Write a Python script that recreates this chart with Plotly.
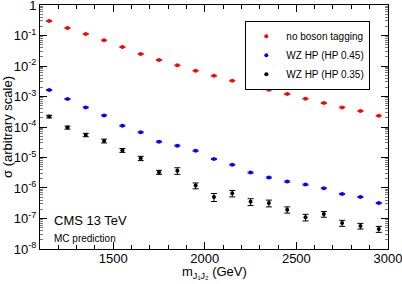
import plotly.graph_objects as go

mass = [1150, 1250, 1350, 1450, 1550, 1650, 1750, 1850, 1950, 2050,
        2150, 2250, 2350, 2450, 2550, 2650, 2750, 2850, 2950]

no_tag = [0.30, 0.176, 0.112, 0.0695, 0.042, 0.0247, 0.0157, 0.0105, 0.0070, 0.0048,
          0.0033, 0.0023, 0.00168, 0.00121, 0.00085, 0.00061, 0.00044, 0.000335, 0.000234]
no_tag_err = [0.008, 0.005, 0.003, 0.002, 0.0012, 0.0007, 0.0005, 0.0003, 0.0002, 0.00014,
              0.0001, 7e-5, 5e-5, 3.5e-5, 2.5e-5, 1.8e-5, 1.3e-5, 1e-5, 7e-6]

wz_045 = [1.63e-3, 8.3e-4, 4.4e-4, 2.4e-4, 1.1e-4, 6.7e-5, 3.3e-5, 2.45e-5, 1.67e-5, 8.9e-6,
          5.8e-6, 3.2e-6, 2.2e-6, 1.62e-6, 1.29e-6, 9.8e-7, 6.4e-7, 5.1e-7, 3.2e-7]
wz_045_err = [6e-5, 3e-5, 1.7e-5, 1e-5, 4.5e-6, 2.8e-6, 1.4e-6, 1e-6, 7e-7, 3.6e-7,
              2.4e-7, 1.3e-7, 9e-8, 7e-8, 5.5e-8, 4e-8, 2.7e-8, 2.2e-8, 1.4e-8]

wz_035 = [2.2e-4, 9.6e-5, 5.5e-5, 3.5e-5, 1.72e-5, 9.4e-6, 3.3e-6, 3.7e-6, 1.2e-6, 5.1e-7,
          6.7e-7, 3.55e-7, 3.2e-7, 1.95e-7, 1.1e-7, 1.4e-7, 7.1e-8, 5.7e-8, 4.5e-8]
wz_035_err = [2.2e-5, 1.1e-5, 7e-6, 5e-6, 2.5e-6, 1.5e-6, 5e-7, 9e-7, 2.6e-7, 1.5e-7,
              1.6e-7, 9e-8, 8e-8, 4.5e-8, 2.7e-8, 3e-8, 1.6e-8, 1.2e-8, 1e-8]

x_ticks = [1500, 2000, 2500, 3000]
x_ticklabels = ["1500", "2000", "2500", "3000"]
y_ticks = [1e-8, 1e-7, 1e-6, 1e-5, 1e-4, 1e-3, 1e-2, 1e-1, 1]
y_ticklabels = ["10<sup>-8</sup>", "10<sup>-7</sup>", "10<sup>-6</sup>", "10<sup>-5</sup>",
                "10<sup>-4</sup>", "10<sup>-3</sup>", "10<sup>-2</sup>", "10<sup>-1</sup>", "1"]

series = [
    ("no boson tagging", no_tag, no_tag_err, "#ff0000"),
    ("WZ HP (HP 0.45)", wz_045, wz_045_err, "#0000ff"),
    ("WZ HP (HP 0.35)", wz_035, wz_035_err, "#000000"),
]

FONT = "Liberation Sans, Arial, sans-serif"

fig = go.Figure()
for name, vals, errs, col in series:
    fig.add_trace(go.Scatter(
        x=mass, y=vals, mode="markers", name=name,
        marker=dict(color=col, size=4, symbol="circle"),
        error_y=dict(type="data", array=errs, visible=True, color=col,
                     thickness=1, width=3),
    ))

fig.update_layout(
    width=402, height=284,
    margin=dict(l=40, r=14, t=5, b=35),
    paper_bgcolor="white", plot_bgcolor="white",
    font=dict(family=FONT, size=13, color="black"),
    showlegend=True,
    legend=dict(
        x=0.59, y=0.935, xanchor="left", yanchor="top",
        bgcolor="white", bordercolor="black", borderwidth=1,
        font=dict(family=FONT, size=10, color="black"),
        itemwidth=30, tracegroupgap=0,
    ),
)

fig.update_xaxes(
    range=[1100, 3000.5], tickmode="array", tickvals=x_ticks, ticktext=x_ticklabels,
    ticks="inside", ticklen=7, tickwidth=1, tickcolor="black",
    showline=True, linecolor="black", linewidth=1, mirror="ticks",
    showgrid=False, zeroline=False, automargin=False, ticklabeloverflow="allow",
    ticklabelstandoff=-3,
    tickfont=dict(size=13),
    minor=dict(ticks="inside", ticklen=4, tick0=1100, dtick=100, tickcolor="black", showgrid=False),
)

fig.update_yaxes(
    type="log", range=[-8.001, 0.001], tickmode="array", tickvals=y_ticks, ticktext=y_ticklabels,
    ticks="inside", ticklen=7, tickwidth=1, tickcolor="black",
    showline=True, linecolor="black", linewidth=1, mirror="ticks",
    showgrid=False, zeroline=False, automargin=False, ticklabeloverflow="allow",
    tickfont=dict(size=13),
    minor=dict(ticks="inside", ticklen=3, dtick="D1", tickcolor="#777777", showgrid=False),
    title=dict(text="σ (arbitrary scale)", font=dict(size=13), standoff=2),
)

fig.add_annotation(text="m<sub>J₁J₂</sub> (GeV)", xref="paper", yref="paper",
                   x=0.5, y=-0.095, xanchor="center", yanchor="middle",
                   showarrow=False, font=dict(size=13, family=FONT))
fig.add_annotation(text="CMS 13 TeV", xref="paper", yref="paper",
                   x=0.035, y=0.115, xanchor="left", yanchor="middle",
                   showarrow=False, font=dict(size=13, family=FONT))
fig.add_annotation(text="MC prediction", xref="paper", yref="paper",
                   x=0.035, y=0.045, xanchor="left", yanchor="middle",
                   showarrow=False, font=dict(size=10, family=FONT))

fig.write_html("out.html", config={"displayModeBar": False},
               post_script="document.body.style.margin='0px';")
